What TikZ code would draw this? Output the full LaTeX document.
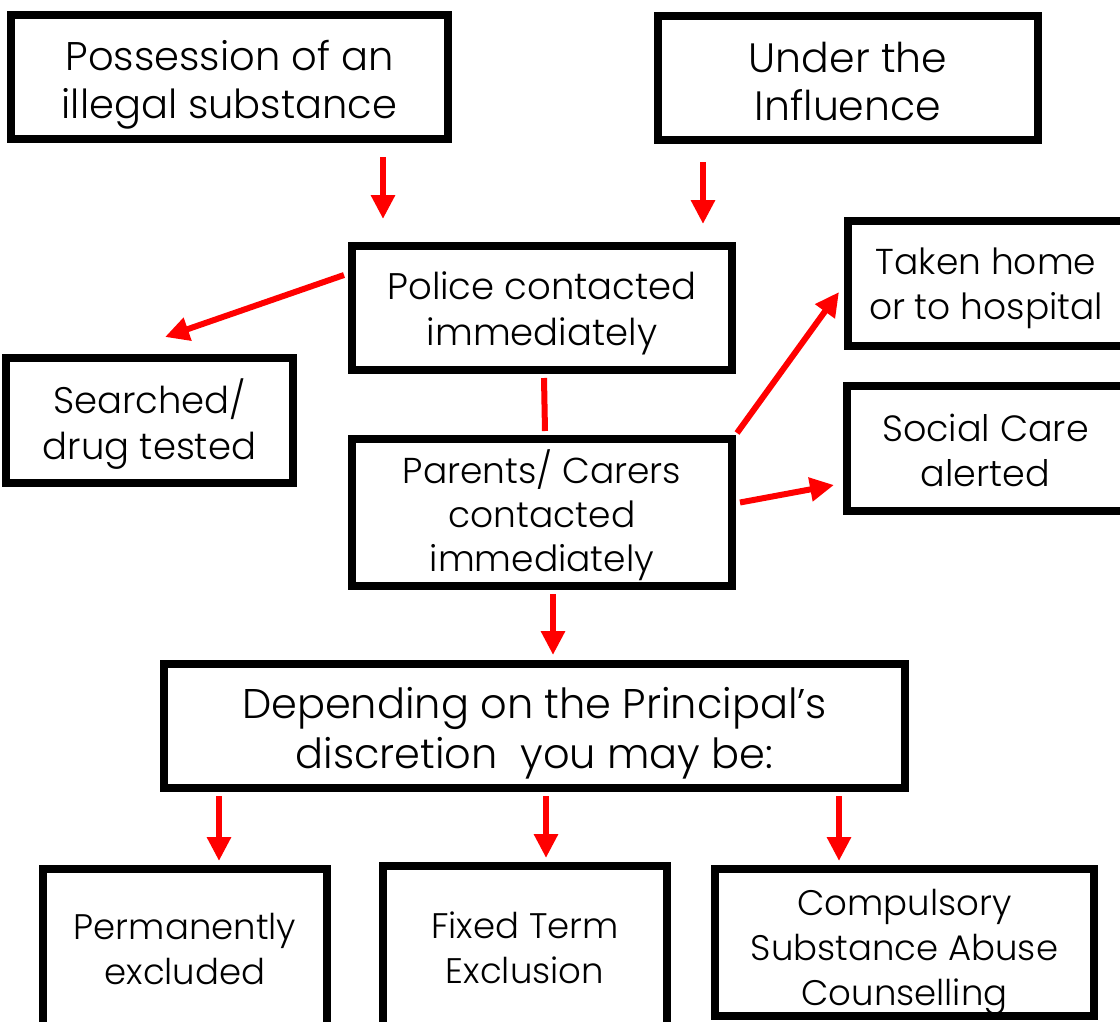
\documentclass[tikz,border=0pt]{standalone}
\usepackage{fontspec}
\setmainfont{Poppins Light}
\usetikzlibrary{arrows.meta}
\newcommand\fsz[2]{\fontsize{#1}{#2}\selectfont}
\begin{document}
\begin{tikzpicture}[x=1pt,y=-1pt,
  box/.style={draw=black, line width=8pt, inner sep=0pt, fill=white},
  txt/.style={align=center, inner sep=0pt},
  arr/.style={draw=red, line width=6pt, -{Triangle[width=23pt,length=24pt]}},
  link/.style={draw=red, line width=6pt}]
\useasboundingbox (0,0) rectangle (1120,1021);
\fill[white] (0,0) rectangle (1120,1021);
% boxes
\node[box, minimum width=437pt, minimum height=124pt] (poss) at (229.5,77) {};
\node[box, minimum width=380pt, minimum height=124pt] (infl) at (848,78) {};
\node[box, minimum width=380pt, minimum height=124pt] (police) at (542,308) {};
\node[box, minimum width=287pt, minimum height=125pt] (search) at (149.5,420.5) {};
\node[box, minimum width=276pt, minimum height=125pt] (home) at (986,283.5) {};
\node[box, minimum width=277pt, minimum height=125pt] (social) at (985.5,448.5) {};
\node[box, minimum width=380pt, minimum height=147pt] (parents) at (542,512.5) {};
\node[box, minimum width=741pt, minimum height=124pt] (depend) at (534.5,726) {};
\node[box, minimum width=284pt, minimum height=160pt] (perm) at (185,949) {};
\node[box, minimum width=284pt, minimum height=166pt] (fixed) at (525,949) {};
\node[box, minimum width=379pt, minimum height=147pt] (couns) at (904.5,942.5) {};
% texts
\node[txt, font=\fsz{40}{48}] (possT) at ([yshift=-8pt]poss.center) {Possession of an\\illegal substance};
\node[txt, font=\fsz{41}{48}] (inflT) at ([yshift=-4pt]infl.center) {Under the\\Influence};
\node[txt, font=\fsz{37}{46}] (policeT) at ([yshift=-5pt]police.center) {Police contacted\\immediately};
\node[txt, font=\fsz{37}{46}] (searchT) at ([yshift=-4pt]search.center) {Searched/\\drug tested};
\node[txt, font=\fsz{36}{45}] (homeT) at ([yshift=-5pt]home.center) {Taken home\\or to hospital};
\node[txt, font=\fsz{36.5}{45}] (socialT) at ([yshift=-2pt]social.center) {Social Care\\alerted};
\node[txt, font=\fsz{36}{44}] (parentsT) at ([yshift=-3pt]parents.center) {Parents/ Carers\\contacted\\immediately};
\node[txt, font=\fsz{41.5}{50}] (dependT) at ([yshift=-7pt]depend.center) {Depending on the Principal’s\\discretion\ \ you may be:};
\node[txt, font=\fsz{35.5}{45}] (permT) at (perm.center) {Permanently\\excluded};
\node[txt, font=\fsz{35.5}{45}] (fixedT) at ([yshift=1pt]fixed.center) {Fixed Term\\Exclusion};
\node[txt, font=\fsz{35.5}{45}] (counsT) at ([yshift=-10pt]couns.center) {Compulsory\\Substance Abuse\\Counselling};
% free ends
\coordinate (a1s) at (383,157);
\coordinate (a1e) at (383,219);
\coordinate (a2s) at (703,162);
\coordinate (a2e) at (703,224);
\coordinate (a3e) at (165,337);
\coordinate (a4e) at (553,655);
\coordinate (a5e) at (839,292);
\coordinate (a6e) at (834,485);
\coordinate (a8e) at (546,858);
% connectors
\draw[arr] (a1s) -- (a1e);
\draw[arr] (a2s) -- (a2e);
\draw[arr] ([xshift=-4pt,yshift=33pt]police.west) -- (a3e);
\draw[link] ([xshift=2pt,yshift=-4pt]police.south) -- ([xshift=3pt,yshift=4pt]parents.north);
\draw[arr] ([xshift=11pt,yshift=-4pt]parents.south) -- (a4e);
\draw[arr] ([xshift=1pt,yshift=2pt]parents.north east) -- (a5e);
\draw[arr] ([xshift=4pt,yshift=10pt]parents.east) -- (a6e);
\draw[arr] ([xshift=-315.5pt,yshift=-4pt]depend.south) -- ([xshift=34pt,yshift=4pt]perm.north);
\draw[arr] ([xshift=11.5pt,yshift=-4pt]depend.south) -- (a8e);
\draw[arr] ([xshift=304.5pt,yshift=-4pt]depend.south) -- ([xshift=-65.5pt,yshift=4pt]couns.north);
\end{tikzpicture}
\end{document}
